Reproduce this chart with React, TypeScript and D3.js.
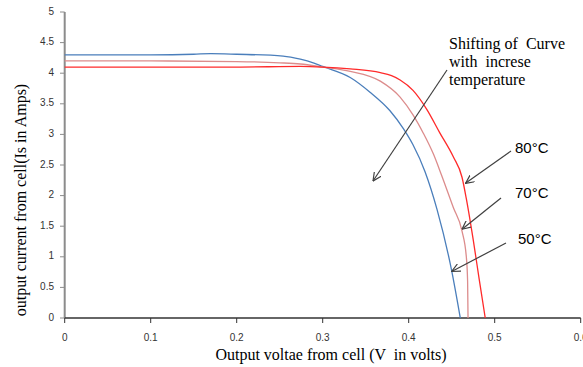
import * as d3 from "d3";

// 50°C curve (blue)
const v50 = [0, 0.05, 0.1, 0.15, 0.17, 0.2, 0.254, 0.274, 0.289, 0.3, 0.332, 0.355, 0.378, 0.394, 0.405, 0.419, 0.433, 0.45, 0.46];
const i50 = [4.3, 4.3, 4.3, 4.31, 4.32, 4.31, 4.28, 4.23, 4.17, 4.11, 3.93, 3.69, 3.39, 3.09, 2.83, 2.39, 1.77, 0.77, 0];

// 70°C curve (pink)
const v70 = [0, 0.1, 0.2, 0.25, 0.274, 0.3, 0.332, 0.367, 0.39, 0.405, 0.417, 0.429, 0.438, 0.452, 0.462, 0.467, 0.4685, 0.469];
const i70 = [4.2, 4.2, 4.19, 4.17, 4.15, 4.1, 4.03, 3.87, 3.61, 3.32, 3.02, 2.67, 2.34, 1.8, 1.42, 1.0, 0.6, 0];

// 80°C curve (red)
const v80 = [0, 0.1, 0.2, 0.274, 0.3, 0.332, 0.367, 0.38, 0.39, 0.405, 0.421, 0.436, 0.452, 0.462, 0.467, 0.475, 0.482, 0.489];
const i80 = [4.1, 4.1, 4.1, 4.11, 4.1, 4.07, 4.01, 3.96, 3.89, 3.72, 3.41, 3.03, 2.63, 2.3, 1.95, 1.28, 0.63, 0];

const xTicks = [0, 0.1, 0.2, 0.3, 0.4, 0.5, 0.6];
const yTicks = [0, 0.5, 1, 1.5, 2, 2.5, 3, 3.5, 4, 4.5, 5];

// labels with the point (V, I) each arrow points to
const tempLabels = ["80°C", "70°C", "50°C"];
const tempTipV = [0.466, 0.462, 0.45];
const tempTipI = [2.2, 1.45, 0.76];

export default function App() {
  const width = 583;
  const height = 367;

  const xScale = d3.scaleLinear().domain([0, 0.6]).range([64.7, 580.7]);
  const yScale = d3.scaleLinear().domain([0, 5]).range([318, 12]);

  const line = d3
    .line<[number, number]>()
    .x((d) => xScale(d[0]))
    .y((d) => yScale(d[1]))
    .curve(d3.curveMonotoneX);

  const series = [
    { v: v50, i: i50, color: "#4A7EBB" },
    { v: v70, i: i70, color: "#DC8C8C" },
    { v: v80, i: i80, color: "#FF2A2A" },
  ];

  const sans = "'Liberation Sans', Arial, sans-serif";
  const serif = "'Liberation Serif', 'Times New Roman', serif";
  const arrowColor = "#404040";

  // label text positions and arrow start points
  const labelPos = [
    { x: 515, y: 153, sx: 511, sy: 151 },
    { x: 515, y: 198, sx: 501, sy: 198 },
    { x: 518, y: 244, sx: 506, sy: 243 },
  ];

  return (
    <svg
      width={width}
      height={height}
      style={{ position: "absolute", left: 0, top: 0, background: "#fff" }}
    >
      <defs>
        <marker
          id="arrow"
          viewBox="0 0 10 10"
          refX={9.5}
          refY={5}
          markerWidth={9}
          markerHeight={9}
          markerUnits="userSpaceOnUse"
          orient="auto"
        >
          <path d="M0,0.5 L9.5,5 L0,9.5" fill="none" stroke={arrowColor} strokeWidth={1.3} />
        </marker>
      </defs>

      {/* axes */}
      <line x1={xScale(0)} x2={xScale(0)} y1={yScale(5)} y2={yScale(0)} stroke="#8c8c8c" strokeWidth={2} />
      <line x1={xScale(0)} x2={xScale(0.6)} y1={yScale(0)} y2={yScale(0)} stroke="#333" strokeWidth={1.3} />

      {yTicks.map((t) => (
        <g key={"y" + t}>
          <line x1={60} x2={xScale(0)} y1={yScale(t)} y2={yScale(t)} stroke="#8c8c8c" strokeWidth={1} />
          <text
            x={54}
            y={yScale(t)}
            textAnchor="end"
            dominantBaseline="middle"
            fontFamily={sans}
            fontSize={10}
            fill="#333"
          >
            {String(t)}
          </text>
        </g>
      ))}

      {xTicks.map((t) => (
        <g key={"x" + t}>
          <line x1={xScale(t)} x2={xScale(t)} y1={yScale(0)} y2={yScale(0) + 5} stroke="#333" strokeWidth={1} />
          <text
            x={xScale(t)}
            y={338}
            textAnchor="middle"
            dominantBaseline="middle"
            fontFamily={sans}
            fontSize={10}
            fill="#333"
          >
            {t === 0 ? "0" : t.toFixed(1)}
          </text>
        </g>
      ))}

      {/* curves */}
      {series.map((s, k) => (
        <path
          key={k}
          d={line(s.v.map((v, j) => [v, s.i[j]] as [number, number])) || ""}
          fill="none"
          stroke={s.color}
          strokeWidth={1.3}
        />
      ))}

      {/* axis titles */}
      <text x={331} y={360} textAnchor="middle" fontFamily={serif} fontSize={16} fill="#000" style={{ whiteSpace: "pre" }}>
        {"Output voltae from cell (V  in volts)"}
      </text>
      <text
        transform="translate(26, 200) rotate(-90)"
        textAnchor="middle"
        fontFamily={serif}
        fontSize={16}
        fill="#000"
      >
        output current from cell(Is in Amps)
      </text>

      {/* shifting annotation */}
      <text fontFamily={serif} fontSize={16} fill="#000" style={{ whiteSpace: "pre" }}>
        <tspan x={449} y={49}>{"Shifting of  Curve"}</tspan>
        <tspan x={449} y={67}>{"with  increse"}</tspan>
        <tspan x={449} y={85}>temperature</tspan>
      </text>
      <line x1={447} y1={70} x2={373} y2={181} stroke={arrowColor} strokeWidth={1.2} markerEnd="url(#arrow)" />

      {/* temperature labels */}
      {tempLabels.map((lab, k) => (
        <g key={lab}>
          <text x={labelPos[k].x} y={labelPos[k].y} fontFamily={sans} fontSize={15} fill="#000">
            {lab}
          </text>
          <line
            x1={labelPos[k].sx}
            y1={labelPos[k].sy}
            x2={xScale(tempTipV[k])}
            y2={yScale(tempTipI[k])}
            stroke={arrowColor}
            strokeWidth={1.2}
            markerEnd="url(#arrow)"
          />
        </g>
      ))}
    </svg>
  );
}
